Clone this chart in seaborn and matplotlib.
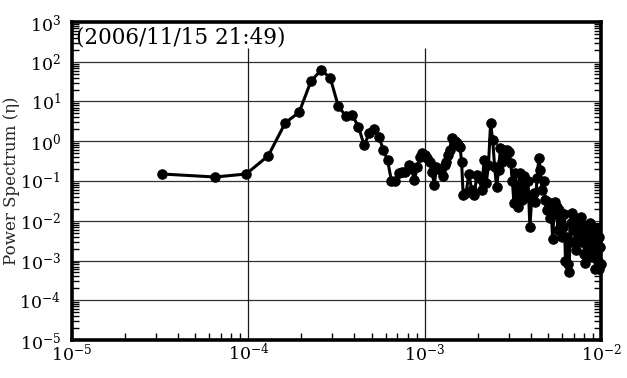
import matplotlib
matplotlib.use("Agg")
import matplotlib.pyplot as plt
import matplotlib.ticker as mticker
import seaborn as sns
import pandas as pd

# ---- data (frequency [Hz], power spectrum) ----
freq = [
    3.24e-05, 6.48e-05, 9.72e-05, 1.296e-04, 1.62e-04, 1.944e-04, 2.268e-04, 2.592e-04,
    2.916e-04, 3.24e-04, 3.564e-04, 3.888e-04, 4.212e-04, 4.536e-04, 4.86e-04, 5.184e-04,
    5.508e-04, 5.832e-04, 6.156e-04, 6.48e-04, 6.804e-04, 7.128e-04, 7.452e-04, 7.776e-04,
    8.1e-04, 8.424e-04, 8.748e-04, 9.072e-04, 9.396e-04, 9.72e-04, 1.0044e-03, 1.0368e-03,
    1.0692e-03, 1.1016e-03, 1.134e-03, 1.1664e-03, 1.1988e-03, 1.2312e-03, 1.2636e-03, 1.296e-03,
    1.3284e-03, 1.3608e-03, 1.3932e-03, 1.4256e-03, 1.458e-03, 1.4904e-03, 1.5228e-03, 1.5552e-03,
    1.5876e-03, 1.62e-03, 1.6524e-03,
    1.7172e-03, 1.782e-03, 1.8468e-03, 1.9116e-03, 1.9764e-03, 2.0412e-03, 2.106e-03, 2.1708e-03,
    2.2356e-03, 2.3004e-03, 2.3652e-03, 2.43e-03, 2.4948e-03, 2.5596e-03, 2.6244e-03, 2.6892e-03,
    2.754e-03, 2.8188e-03, 2.8836e-03, 2.9484e-03, 3.0132e-03, 3.078e-03, 3.1428e-03, 3.2076e-03,
    3.2724e-03,
    3.3696e-03, 3.4668e-03, 3.564e-03, 3.6612e-03, 3.7584e-03, 3.8556e-03, 3.9528e-03, 4.05e-03,
    4.1472e-03, 4.2444e-03, 4.3416e-03, 4.4388e-03, 4.536e-03, 4.6332e-03, 4.7304e-03, 4.8276e-03,
    4.9248e-03, 5.022e-03, 5.1192e-03, 5.2164e-03, 5.3136e-03, 5.4108e-03, 5.508e-03, 5.6052e-03,
    5.7024e-03, 5.7996e-03, 5.8968e-03, 5.994e-03, 6.0912e-03, 6.1884e-03, 6.2856e-03, 6.3828e-03,
    6.48e-03, 6.5772e-03, 6.6744e-03, 6.7716e-03, 6.8688e-03, 6.966e-03, 7.0632e-03, 7.1604e-03,
    7.2576e-03, 7.3548e-03, 7.452e-03, 7.5492e-03, 7.6464e-03, 7.7436e-03, 7.8408e-03, 7.938e-03,
    8.0352e-03, 8.1324e-03, 8.2296e-03, 8.3268e-03, 8.424e-03, 8.5212e-03, 8.6184e-03, 8.7156e-03,
    8.8128e-03, 8.91e-03, 9.0072e-03, 9.1044e-03, 9.2016e-03, 9.2988e-03, 9.396e-03, 9.4932e-03,
    9.5904e-03, 9.6876e-03, 9.7848e-03, 9.882e-03, 9.9792e-03,
]
power = [
    0.15, 0.126, 0.15, 0.43, 2.9, 5.4, 33, 62,
    39, 7.5, 4.4, 4.5, 2.3, 0.8, 1.6, 2.0,
    1.3, 0.6, 0.34, 0.1, 0.1, 0.16, 0.17, 0.17,
    0.25, 0.2, 0.106, 0.22, 0.4, 0.5, 0.45, 0.38,
    0.3, 0.17, 0.079, 0.22, 0.2, 0.19, 0.13, 0.25,
    0.3, 0.45, 0.6, 1.2, 0.85, 1.0, 0.9, 0.8,
    0.7, 0.3, 0.045,
    0.05, 0.15, 0.06, 0.045, 0.14, 0.12, 0.059, 0.34,
    0.089, 0.25, 2.8, 1.1, 0.22, 0.07, 0.19, 0.68,
    0.3, 0.6, 0.45, 0.6, 0.55, 0.28, 0.1, 0.028,
    0.16,
    0.022, 0.16, 0.033, 0.13, 0.04, 0.1, 0.007, 0.04,
    0.05, 0.03, 0.12, 0.38, 0.19, 0.06, 0.1, 0.033,
    0.019, 0.03, 0.012, 0.022, 0.0035, 0.015, 0.03, 0.022,
    0.006, 0.019, 0.0124, 0.004, 0.0069, 0.015, 0.001, 0.004,
    0.0008, 0.0005, 0.003, 0.009, 0.016, 0.006, 0.012, 0.003,
    0.0018, 0.008, 0.004, 0.0105, 0.006, 0.0124, 0.003, 0.0075,
    0.0015, 0.00087, 0.004, 0.007, 0.002, 0.0069, 0.0035, 0.009,
    0.0025, 0.0012, 0.005, 0.0015, 0.004, 0.0006, 0.0065, 0.002,
    0.001, 0.0006, 0.004, 0.0022, 0.0008,
]
title_text = "(2006/11/15 21:49)"
ylabel_text = "Power Spectrum (η)"
x_limits = (1e-5, 1e-2)
y_limits = (1e-5, 1e3)
x_major = [1e-5, 1e-4, 1e-3, 1e-2]
vgrid_at = [1e-4, 1e-3]

df = pd.DataFrame({"freq": freq, "power": power})

sns.set_theme(style="white")
plt.rcParams["font.family"] = ["DejaVu Serif"]
plt.rcParams["mathtext.fontset"] = "dejavuserif"

fig = plt.figure(figsize=(6.27, 3.78), dpi=100)
ax = fig.add_axes([72 / 627, 1 - 340 / 378, 529 / 627, 318 / 378])

sns.lineplot(data=df, x="freq", y="power", ax=ax, color="black",
             marker="o", markersize=6.8, markeredgecolor="black",
             linewidth=2.2, estimator=None, sort=False, clip_on=False, zorder=5)

ax.set_xscale("log")
ax.set_yscale("log")
ax.set_xlim(*x_limits)
ax.set_ylim(*y_limits)

# grid
for yv in [1e2, 1e1, 1e0, 1e-1, 1e-2, 1e-3, 1e-4]:
    ax.axhline(yv, color="0.2", lw=0.9, zorder=1)
ax.vlines(vgrid_at, y_limits[0], 10 ** 2.35, color="0.1", lw=0.9, zorder=1)

ax.xaxis.set_major_locator(mticker.FixedLocator(x_major))
ax.yaxis.set_major_locator(mticker.LogLocator(base=10, numticks=20))
ax.xaxis.set_major_formatter(mticker.LogFormatterSciNotation())
ax.xaxis.set_minor_locator(mticker.LogLocator(base=10, subs=range(2, 10), numticks=20))
ax.yaxis.set_minor_locator(mticker.LogLocator(base=10, subs=range(2, 10), numticks=40))
ax.xaxis.set_minor_formatter(mticker.NullFormatter())
ax.yaxis.set_minor_formatter(mticker.NullFormatter())

ax.tick_params(axis="both", which="major", direction="in", length=0,
               labelsize=12.5, colors="black")
ax.tick_params(axis="x", which="major", pad=2)
ax.tick_params(axis="y", which="major", pad=8)
ax.tick_params(axis="x", which="minor", direction="in", length=5, width=1,
               bottom=True, top=False, color="black")
ax.tick_params(axis="y", which="minor", direction="in", length=5, width=1,
               left=True, right=True, color="black")

for s in ax.spines.values():
    s.set_color("black")
    s.set_linewidth(2.6)

ax.set_xlabel("")
ax.set_ylabel(ylabel_text, fontsize=12)
ax.yaxis.set_label_coords(-0.098, 0.5)

ax.text(0.008, 0.985, title_text, transform=ax.transAxes, ha="left", va="top",
        fontsize=15.5, color="black")

fig.savefig("out.png", dpi=100)
